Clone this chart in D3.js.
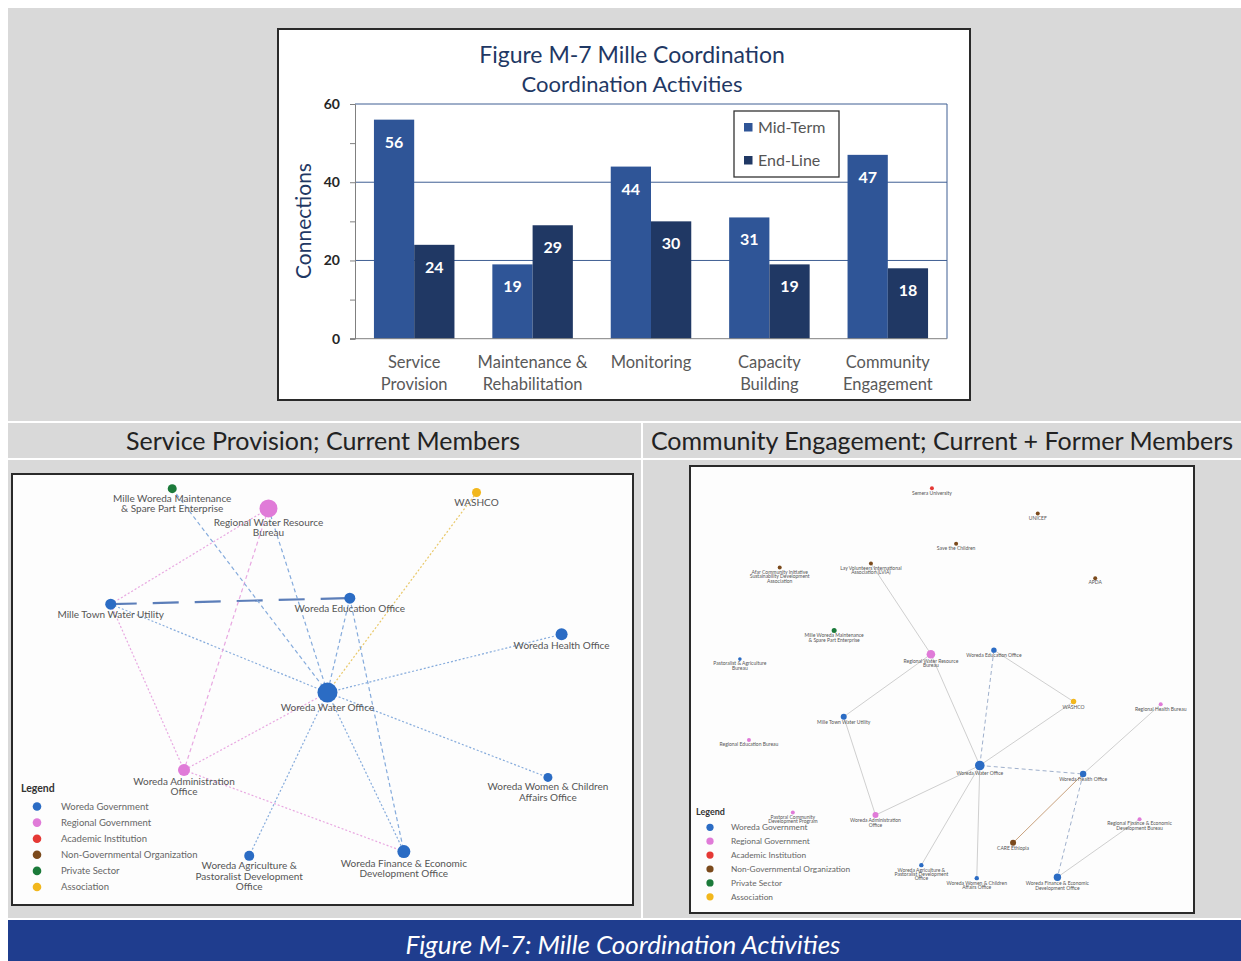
<!DOCTYPE html>
<html><head><meta charset="utf-8">
<script src="https://cdn.jsdelivr.net/npm/d3@7"></script>
<style>
html,body{margin:0;padding:0;background:#fff;}
svg{display:block;}
text{font-family:Lato,"Open Sans",sans-serif;}
</style></head>
<body><svg id="c" width="1241" height="961"></svg>
<script>
// ---------- DATA ----------
const categories = ["Service Provision","Maintenance & Rehabilitation","Monitoring","Capacity Building","Community Engagement"];
const categoryLines = [["Service","Provision"],["Maintenance &","Rehabilitation"],["Monitoring"],["Capacity","Building"],["Community","Engagement"]];
const seriesNames = ["Mid-Term","End-Line"];
const midTerm = [56,19,44,31,47];
const endLine = [24,29,30,19,18];
const yTicks = [0,20,40,60];
const yMinorTicks = [10,30,50];

const orgTypes = ["Woreda Government","Regional Government","Academic Institution","Non-Governmental Organization","Private Sector","Association"];
const orgColors = ["#2b6cc4","#e07bd8","#e53935","#7b4a1c","#1b7a3a","#f2b71c"];

// Service Provision network (layout units 0-100 across panel)
const spNodes = [
  {id:"maint", lines:["Mille Woreda Maintenance","& Spare Part Enterprise"], type:4, size:4.5, x:25.8, y:3.4},
  {id:"rwrb", lines:["Regional Water Resource","Bureau"], type:1, size:9, x:41.3, y:8.0},
  {id:"washco", lines:["WASHCO"], type:5, size:4.5, x:74.8, y:4.3},
  {id:"town", lines:["Mille Town Water Utility"], type:0, size:5.5, x:15.9, y:30.2},
  {id:"edu", lines:["Woreda Education Office"], type:0, size:5.5, x:54.4, y:28.8},
  {id:"health", lines:["Woreda Health Office"], type:0, size:6, x:88.5, y:37.2},
  {id:"water", lines:["Woreda Water Office"], type:0, size:10, x:50.8, y:50.7},
  {id:"admin", lines:["Woreda Administration","Office"], type:1, size:6, x:27.7, y:68.7},
  {id:"women", lines:["Woreda Women & Children","Affairs Office"], type:0, size:4.5, x:86.3, y:70.4},
  {id:"agri", lines:["Woreda Agriculture &","Pastoralist Development","Office"], type:0, size:5, x:38.2, y:88.6},
  {id:"fin", lines:["Woreda Finance & Economic","Development Office"], type:0, size:6.5, x:63.1, y:87.6}
];
const spLinks = [
  ["town","edu","long"],["town","rwrb","dot"],["town","water","dot"],["town","admin","dot"],
  ["rwrb","admin","dash"],["rwrb","water","dash"],["maint","water","dash"],["washco","water","dot"],
  ["edu","water","dash"],["edu","fin","dash"],["health","water","dot"],["water","women","dot"],
  ["water","admin","dot"],["water","agri","dot"],["water","fin","dot"],["admin","fin","dot"]
];

// Community Engagement network (layout units 0-100 across panel)
const ceNodes = [
  {id:"semera", lines:["Semera University"], type:2, size:2, x:48.0, y:5.0},
  {id:"unicef", lines:["UNICEF"], type:3, size:2, x:69.0, y:10.6},
  {id:"save", lines:["Save the Children"], type:3, size:2, x:52.8, y:17.4},
  {id:"acisda", lines:["Afar Community Initiative","Sustainability Development","Association"], type:3, size:2, x:17.8, y:22.7},
  {id:"lvia", lines:["Lay Volunteers International","Association (LVIA)"], type:3, size:2, x:35.9, y:21.8},
  {id:"apda", lines:["APDA"], type:3, size:2, x:80.4, y:25.1},
  {id:"maint", lines:["Mille Woreda Maintenance","& Spare Part Enterprise"], type:4, size:2.5, x:28.6, y:36.8},
  {id:"pab", lines:["Pastoralist & Agriculture","Bureau"], type:0, size:1.8, x:9.9, y:43.2},
  {id:"rwrb", lines:["Regional Water Resource","Bureau"], type:1, size:4.3, x:47.8, y:42.1},
  {id:"edu", lines:["Woreda Education Office"], type:0, size:2.7, x:60.3, y:41.2},
  {id:"washco", lines:["WASHCO"], type:5, size:2.7, x:76.1, y:52.7},
  {id:"rhb", lines:["Regional Health Bureau"], type:1, size:2, x:93.4, y:53.3},
  {id:"town", lines:["Mille Town Water Utility"], type:0, size:3, x:30.5, y:56.1},
  {id:"reb", lines:["Regional Education Bureau"], type:1, size:2, x:11.7, y:61.3},
  {id:"water", lines:["Woreda Water Office"], type:0, size:4.8, x:57.5, y:67.0},
  {id:"health", lines:["Woreda Health Office"], type:0, size:3.2, x:78.0, y:68.9},
  {id:"pcdp", lines:["Pastoral Community","Development Program"], type:1, size:2, x:20.4, y:77.5},
  {id:"admin", lines:["Woreda Administration","Office"], type:1, size:3, x:36.8, y:78.1},
  {id:"rfed", lines:["Regional Finance & Economic","Development Bureau"], type:1, size:2, x:89.2, y:79.0},
  {id:"care", lines:["CARE Ethiopia"], type:3, size:3, x:64.1, y:84.3},
  {id:"agri", lines:["Woreda Agriculture &","Pastoralist Development","Office"], type:0, size:2.2, x:45.9, y:89.3},
  {id:"women", lines:["Woreda Women & Children","Affairs Office"], type:0, size:2.2, x:56.9, y:92.2},
  {id:"fin", lines:["Woreda Finance & Economic","Development Office"], type:0, size:3.7, x:72.9, y:92.0}
];
const ceLinks = [
  ["lvia","rwrb","solid"],["rwrb","town","solid"],["rwrb","water","solid"],["edu","water","dash"],
  ["edu","washco","solid"],["washco","water","solid"],["water","health","dash"],["rhb","health","solid"],
  ["town","admin","solid"],["water","admin","solid"],["water","agri","solid"],["water","women","solid"],
  ["health","care","solid"],["health","fin","dash"],["rfed","fin","solid"]
];

const headings = ["Service Provision; Current Members","Community Engagement; Current + Former Members"];
const caption = "Figure M-7: Mille Coordination Activities";
const chartTitle = ["Figure M-7 Mille Coordination","Coordination Activities"];

// ---------- LAYOUT ----------
const svg = d3.select("#c");
const W = 1241, H = 961;

// backgrounds
svg.append("rect").attr("x",8).attr("y",8).attr("width",W-8).attr("height",910).attr("fill","#d9d9d9");
svg.append("rect").attr("x",8).attr("y",421).attr("width",W-8).attr("height",2).attr("fill","#fff");
svg.append("rect").attr("x",8).attr("y",458).attr("width",W-8).attr("height",2).attr("fill","#fff");
svg.append("rect").attr("x",641).attr("y",423).attr("width",2).attr("height",495).attr("fill","#fff");
svg.append("rect").attr("x",8).attr("y",920).attr("width",W-8).attr("height",41).attr("fill","#1f3d8e");
svg.append("text").attr("x",623).attr("y",954).attr("text-anchor","middle")
  .attr("font-size",26).attr("font-style","italic").attr("fill","#fff").text(caption);

// headings
svg.append("text").attr("x",323).attr("y",450).attr("text-anchor","middle").attr("font-size",25).attr("fill","#222").text(headings[0]);
svg.append("text").attr("x",942).attr("y",450).attr("text-anchor","middle").attr("font-size",25).attr("fill","#222").text(headings[1]);

// ---------- BAR CHART ----------
svg.append("rect").attr("x",278).attr("y",29).attr("width",692).attr("height",371)
  .attr("fill","#fff").attr("stroke","#2a2a2a").attr("stroke-width",2);
svg.append("text").attr("x",632).attr("y",63).attr("text-anchor","middle").attr("font-size",23).attr("fill","#1f3864").text(chartTitle[0]);
svg.append("text").attr("x",632).attr("y",92).attr("text-anchor","middle").attr("font-size",22).attr("fill","#1f3864").text(chartTitle[1]);

const x0 = d3.scaleBand().domain(categories).range([355,947]).paddingInner(0.32).paddingOuter(0.16);
const x1 = d3.scaleBand().domain(seriesNames).range([0,x0.bandwidth()]);
const y = d3.scaleLinear().domain([0,60]).range([338.7,104]);
const barColor = d3.scaleOrdinal().domain(seriesNames).range(["#2f5597","#203864"]);

const plot = svg.append("g");
// gridlines
plot.selectAll("line.grid").data(yTicks.filter(d=>d>0)).join("line")
  .attr("x1",355).attr("x2",947).attr("y1",d=>y(d)).attr("y2",d=>y(d))
  .attr("stroke","#3f5f93").attr("stroke-width",1);
plot.append("line").attr("x1",947).attr("x2",947).attr("y1",y(60)).attr("y2",y(0)).attr("stroke","#3f5f93");

// y axis
const yAxis = d3.axisLeft(y).tickValues(d3.merge([yTicks,yMinorTicks]).sort(d3.ascending)).tickSize(5).tickFormat(d=>yTicks.includes(d)?d:"");
const ya = plot.append("g").attr("transform","translate(355,0)").call(yAxis);
ya.select(".domain").attr("stroke","#808080");
ya.selectAll(".tick line").attr("stroke","#808080");
ya.selectAll(".tick text").attr("font-size",14).attr("font-weight","bold").attr("fill","#262626").attr("x",-15).attr("font-family","Lato");
svg.append("text").attr("transform","translate(311,221) rotate(-90)").attr("text-anchor","middle")
  .attr("font-size",21).attr("fill","#1f3864").text("Connections");

// bars
const rows = categories.map((c,i)=>({cat:c, vals:[{s:seriesNames[0],v:midTerm[i]},{s:seriesNames[1],v:endLine[i]}]}));
const grp = plot.selectAll("g.cat").data(rows).join("g").attr("transform",d=>`translate(${x0(d.cat)},0)`);
grp.selectAll("rect").data(d=>d.vals).join("rect")
  .attr("x",d=>x1(d.s)).attr("width",x1.bandwidth()).attr("y",d=>y(d.v)).attr("height",d=>y(0)-y(d.v))
  .attr("fill",d=>barColor(d.s));
grp.selectAll("text").data(d=>d.vals).join("text")
  .attr("x",d=>x1(d.s)+x1.bandwidth()/2).attr("y",d=>y(d.v)+28).attr("text-anchor","middle")
  .attr("font-size",16).attr("font-weight","bold").attr("fill","#fff").text(d=>d.v);
// bottom axis line
plot.append("line").attr("x1",350).attr("x2",947).attr("y1",y(0)).attr("y2",y(0)).attr("stroke","#808080");

// category labels
categories.forEach((c,i)=>{
  const t = svg.append("text").attr("text-anchor","middle").attr("font-size",16.5).attr("fill","#595959");
  categoryLines[i].forEach((ln,j)=>{
    t.append("tspan").attr("x",x0(c)+x0.bandwidth()/2).attr("y",368+j*22).text(ln);
  });
});

// legend
const lg = svg.append("g");
lg.append("rect").attr("x",734).attr("y",111).attr("width",105).attr("height",66).attr("fill","#fff").attr("stroke","#333").attr("stroke-width",1.3);
seriesNames.forEach((s,i)=>{
  lg.append("rect").attr("x",744).attr("y",123+i*33).attr("width",8.5).attr("height",8.5).attr("fill",barColor(s));
  lg.append("text").attr("x",758).attr("y",133+i*33).attr("font-size",16).attr("fill","#555").text(s);
});

// ---------- NETWORKS ----------
function drawNetwork(opts){
  const g = svg.append("g");
  g.append("rect").attr("x",opts.x).attr("y",opts.y).attr("width",opts.w).attr("height",opts.h)
    .attr("fill","#fdfdfd").attr("stroke","#2a2a2a").attr("stroke-width",2);
  const sx = d3.scaleLinear().domain([0,100]).range([opts.x,opts.x+opts.w]);
  const sy = d3.scaleLinear().domain([0,100]).range([opts.y,opts.y+opts.h]);
  const byId = new Map(opts.nodes.map(n=>[n.id,n]));
  g.selectAll("line.edge").data(opts.links).join("line")
    .attr("x1",d=>sx(byId.get(d[0]).x)).attr("y1",d=>sy(byId.get(d[0]).y))
    .attr("x2",d=>sx(byId.get(d[1]).x)).attr("y2",d=>sy(byId.get(d[1]).y))
    .attr("stroke",d=>opts.edgeColor(d,byId))
    .attr("stroke-width",d=>opts.edgeWidth(d))
    .attr("stroke-dasharray",d=>opts.dash[d[2]])
    .attr("stroke-opacity",d=>opts.edgeOpacity(d));
  g.selectAll("circle.node").data(opts.nodes).join("circle")
    .attr("cx",d=>sx(d.x)).attr("cy",d=>sy(d.y)).attr("r",d=>d.size).attr("fill",d=>orgColors[d.type]);
  opts.nodes.forEach(n=>{
    const t = g.append("text").attr("text-anchor","middle").attr("font-size",opts.fs).attr("fill",opts.labelColor);
    n.lines.forEach((ln,j)=>{
      t.append("tspan").attr("x",sx(n.x)).attr("y",sy(n.y)+n.size+opts.labelOff+j*opts.lh).text(ln);
    });
  });
  // legend
  const L = opts.legend;
  g.append("text").attr("x",L.x).attr("y",L.y).attr("font-size",L.fsTitle).attr("font-weight","bold").attr("fill","#333").text("Legend");
  orgTypes.forEach((t,i)=>{
    g.append("circle").attr("cx",L.dotX).attr("cy",L.y0+i*L.step).attr("r",L.r).attr("fill",orgColors[i]);
    g.append("text").attr("x",L.textX).attr("y",L.y0+i*L.step+L.fs*0.35).attr("font-size",L.fs).attr("fill","#666").text(t);
  });
}

drawNetwork({
  x:12, y:474, w:621, h:431, nodes:spNodes, links:spLinks,
  dash:{long:"26,16", dot:"2,2", dash:"4,3"},
  edgeColor:(d,m)=>{
    if(d[2]==="long") return "#3f67ad";
    const s=m.get(d[0]), t=m.get(d[1]);
    if(s.type===5||t.type===5) return "#e8c560";
    if((s.type===1||t.type===1) && d[2]==="dot") return "#e7a3df";
    if(d[0]==="rwrb" && d[1]==="admin") return "#e7a3df";
    return "#7ea6da";
  },
  edgeWidth:d=>d[2]==="long"?2.2:1.2,
  edgeOpacity:d=>d[2]==="long"?0.85:0.95,
  fs:10, lh:10.5, labelOff:8.5, labelColor:"#555",
  legend:{x:21, y:792, fsTitle:10.5, dotX:37, y0:806.5, step:16.1, r:4.3, textX:61, fs:9.5}
});

drawNetwork({
  x:690, y:466, w:504, h:447, nodes:ceNodes, links:ceLinks,
  dash:{solid:null, dash:"4,3"},
  edgeColor:(d,m)=>{
    if(d[1]==="care") return "#c9a27e";
    if(d[2]==="dash") return "#9fb0cc";
    return "#cfcfcf";
  },
  edgeWidth:d=>1,
  edgeOpacity:d=>1,
  fs:5, lh:4.4, labelOff:4.3, labelColor:"#555",
  legend:{x:696, y:815, fsTitle:9, dotX:710, y0:827.3, step:13.9, r:3.6, textX:731, fs:8.3}
});
</script>
</body></html>
